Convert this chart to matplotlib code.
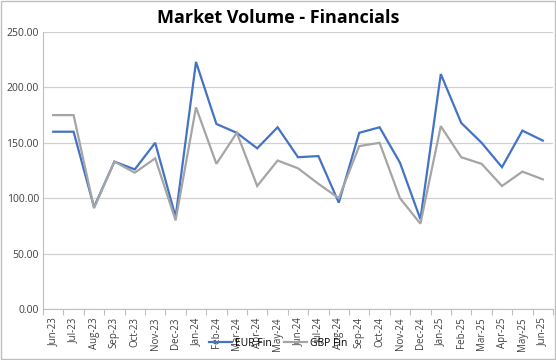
import matplotlib
matplotlib.use("Agg")
import matplotlib.pyplot as plt
from matplotlib.lines import Line2D
from matplotlib.patches import Rectangle

months = ["Jun-23","Jul-23","Aug-23","Sep-23","Oct-23","Nov-23","Dec-23","Jan-24","Feb-24","Mar-24",
          "Apr-24","May-24","Jun-24","Jul-24","Aug-24","Sep-24","Oct-24","Nov-24","Dec-24","Jan-25",
          "Feb-25","Mar-25","Apr-25","May-25","Jun-25"]
eur_fin = [160, 160, 92, 133, 126, 150, 83, 223, 167, 159,
           145, 164, 137, 138, 96, 159, 164, 132, 81, 212,
           168, 150, 128, 161, 152]
gbp_fin = [175, 175, 91, 133, 123, 136, 80, 182, 131, 159,
           111, 134, 127, 113, 100, 147, 150, 100, 77, 165,
           137, 131, 111, 124, 117]
yticks = [0, 50, 100, 150, 200, 250]

plt.rcParams['font.family'] = ['Open Sans', 'DejaVu Sans']

fig = plt.figure(figsize=(5.56, 3.60), dpi=100)
ax = fig.add_axes([43/556, 1-309/360, (553-43)/556, (309-32)/360])

x = list(range(len(months)))
ax.plot(x, eur_fin, color="#4472C4", lw=1.6, label="EUR Fin", solid_joinstyle="miter")
ax.plot(x, gbp_fin, color="#A5A5A5", lw=1.6, label="GBP Fin", solid_joinstyle="miter")

ax.set_xlim(-0.5, len(months)-0.5)
ax.set_ylim(0, 250)
ax.set_yticks(yticks)
ax.set_yticklabels([f"{v:.2f}" for v in yticks], fontsize=7.5, color="#404040")
ax.yaxis.grid(True, color="#D0D0D0", lw=0.9)
ax.set_axisbelow(True)
ax.tick_params(axis="y", length=0, pad=3)

ax.set_xticks([i - 0.5 for i in range(len(months)+1)])
ax.set_xticklabels([])
ax.set_xticks(x, minor=True)
ax.set_xticklabels(months, minor=True, rotation=90, fontsize=7, color="#404040")
ax.tick_params(axis="x", which="major", length=4, color="#BFBFBF")
ax.tick_params(axis="x", which="minor", length=0, pad=6)

for s in ["top", "right"]:
    ax.spines[s].set_visible(False)
ax.spines["left"].set_color("#BFBFBF")
ax.spines["bottom"].set_color("#BFBFBF")

fig.text(0.5, 1-18/360, "Market Volume - Financials", ha="center", va="center",
         fontsize=13, fontweight="bold", color="#000000")

leg = fig.legend(handles=[Line2D([], [], color="#4472C4", lw=1.6),
                          Line2D([], [], color="#A5A5A5", lw=1.6)],
                 labels=["EUR Fin", "GBP Fin"], loc="center", bbox_to_anchor=(0.5, 1-343/360),
                 ncol=2, frameon=False, fontsize=7.5, handlelength=2.2, columnspacing=1.2,
                 handletextpad=0.3)

fig.patches.append(Rectangle((0.001, 0.002), 0.997, 0.995, transform=fig.transFigure,
                             fill=False, edgecolor="#BFBFBF", lw=1.0))

fig.savefig("out.png", dpi=100)
